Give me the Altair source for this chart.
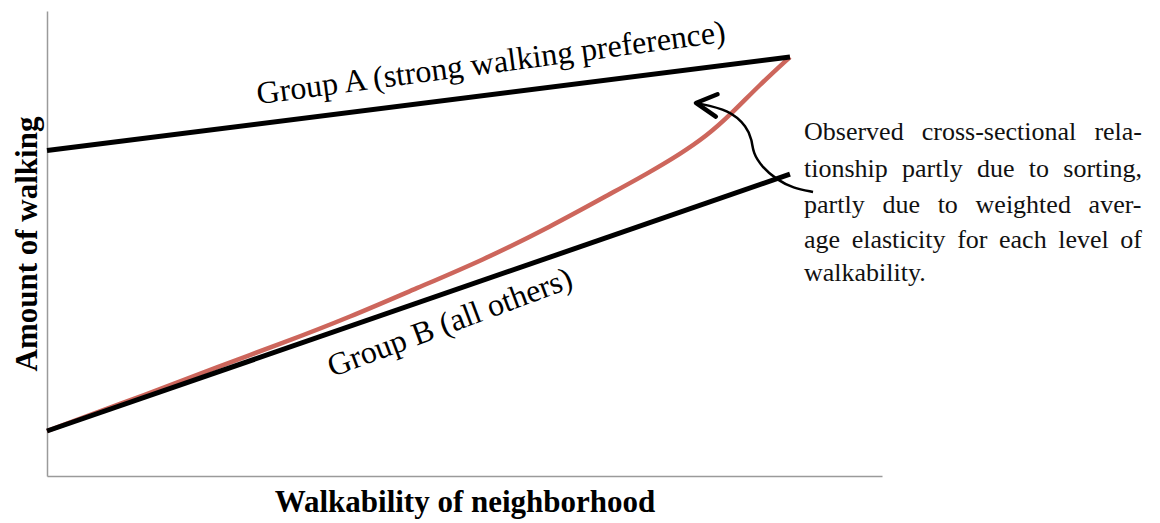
import altair as alt
import pandas as pd

# ---- data (axis units 0..10) ----
group_a_x = [0.0, 8.898]
group_a_y = [7.0, 9.011]
group_b_x = [0.0, 8.898]
group_b_y = [0.968, 6.49]
observed_x = [0.0, 1.234, 2.036, 2.826, 3.629, 4.431, 5.222, 6.024, 6.778, 7.186,
              7.581, 7.904, 8.18, 8.539, 8.898]
observed_y = [0.968, 1.785, 2.344, 2.86, 3.419, 4.043, 4.645, 5.355, 6.1, 6.5,
              6.92, 7.32, 7.76, 8.42, 9.011]
arrow_x = [7.772, 8.18, 8.383, 8.443, 8.455, 8.563, 8.743, 8.934, 9.174]
arrow_y = [8.022, 7.871, 7.505, 7.226, 6.946, 6.645, 6.366, 6.194, 6.108]
head_x = [8.03, 7.772, 8.01]
head_y = [8.21, 8.022, 7.73]

note_lines = [
    "Observed cross-sectional rela-",
    "tionship partly due to sorting,",
    "partly due to weighted aver-",
    "age elasticity for each level of",
    "walkability.",
]
note_justified = [True, True, True, True, False]
note_x = 9.066
note_y = [7.226, 6.43, 5.65, 4.9, 4.2]

label_a = "Group A (strong walking preference)"
label_b = "Group B (all others)"

FONT = "Liberation Serif"
NOTE_SIZE = 26
PX_PER_X = 83.5          # plot width 835 px over 10 units
NOTE_WIDTH_PX = 338      # justified column width

# Times/Liberation Serif advance widths (1/1000 em) for justification
TW = {" ": 250, "a": 444, "b": 500, "c": 444, "d": 500, "e": 444, "f": 333, "g": 500,
      "h": 500, "i": 278, "k": 500, "l": 278, "m": 778, "n": 500, "o": 500, "p": 500,
      "r": 333, "s": 389, "t": 278, "u": 500, "v": 500, "w": 722, "y": 500, "O": 722,
      ",": 250, "-": 333, ".": 250}


def text_w(s):
    return sum(TW.get(ch, 500) for ch in s) * NOTE_SIZE / 1000.0


words = []
for line, yv, just in zip(note_lines, note_y, note_justified):
    ws = line.split(" ")
    if just and len(ws) > 1:
        gap = (NOTE_WIDTH_PX - sum(text_w(w) for w in ws)) / (len(ws) - 1)
    else:
        gap = text_w(" ")
    pos = 0.0
    for w in ws:
        words.append({"x": note_x + pos / PX_PER_X, "y": yv, "t": w})
        pos += text_w(w) + gap
note_df = pd.DataFrame(words)

xs = alt.Scale(domain=[0, 10], nice=False, zero=False)
ys = alt.Scale(domain=[0, 10], nice=False, zero=False)


def lines_df(xv, yv):
    return pd.DataFrame({"x": xv, "y": yv, "order": list(range(len(xv)))})


base_x = alt.X("x:Q", scale=xs, axis=alt.Axis(title="Walkability of neighborhood"))
base_y = alt.Y("y:Q", scale=ys, axis=alt.Axis(title="Amount of walking"))

obs = alt.Chart(lines_df(observed_x, observed_y)).mark_line(
    color="#cd665c", strokeWidth=4.5, interpolate="basis"
).encode(x=base_x, y=base_y, order="order:Q")

ga = alt.Chart(lines_df(group_a_x, group_a_y)).mark_line(
    color="black", strokeWidth=5
).encode(x="x:Q", y="y:Q", order="order:Q")

gb = alt.Chart(lines_df(group_b_x, group_b_y)).mark_line(
    color="black", strokeWidth=5
).encode(x="x:Q", y="y:Q", order="order:Q")

arrow = alt.Chart(lines_df(arrow_x, arrow_y)).mark_line(
    color="black", strokeWidth=2.5, interpolate="basis"
).encode(x="x:Q", y="y:Q", order="order:Q")

head = alt.Chart(lines_df(head_x, head_y)).mark_line(
    color="black", strokeWidth=4.5, strokeCap="round", strokeJoin="round"
).encode(x="x:Q", y="y:Q", order="order:Q")

lab_a = alt.Chart(pd.DataFrame({"x": [5.317], "y": [8.88], "t": [label_a]})).mark_text(
    font=FONT, fontSize=32, angle=352.4, align="center", baseline="middle", color="black"
).encode(x="x:Q", y="y:Q", text="t:N")

lab_b = alt.Chart(pd.DataFrame({"x": [4.826], "y": [3.3], "t": [label_b]})).mark_text(
    font=FONT, fontSize=32, angle=339.5, align="center", baseline="middle", color="black"
).encode(x="x:Q", y="y:Q", text="t:N")

note = alt.Chart(note_df).mark_text(
    font=FONT, fontSize=NOTE_SIZE, align="left", baseline="alphabetic", color="#111111"
).encode(x="x:Q", y="y:Q", text="t:N")

chart = (
    alt.layer(obs, ga, gb, arrow, head, lab_a, lab_b, note)
    .properties(
        width=835,
        height=465,
        autosize=alt.AutoSizeParams(type="none"),
        padding={"left": 39, "top": 3, "right": 270, "bottom": 44},
    )
    .configure_view(stroke=None)
    .configure_axis(
        domainColor="#9a9a9a",
        domainWidth=1.5,
        ticks=False,
        labels=False,
        grid=False,
        titleFont=FONT,
        titleFontSize=31,
        titleFontWeight="bold",
        titleColor="black",
    )
    .configure_axisX(titlePadding=11)
    .configure_axisY(titlePadding=4)
)

chart.save("out.html", embed_options={"renderer": "svg", "actions": False})
